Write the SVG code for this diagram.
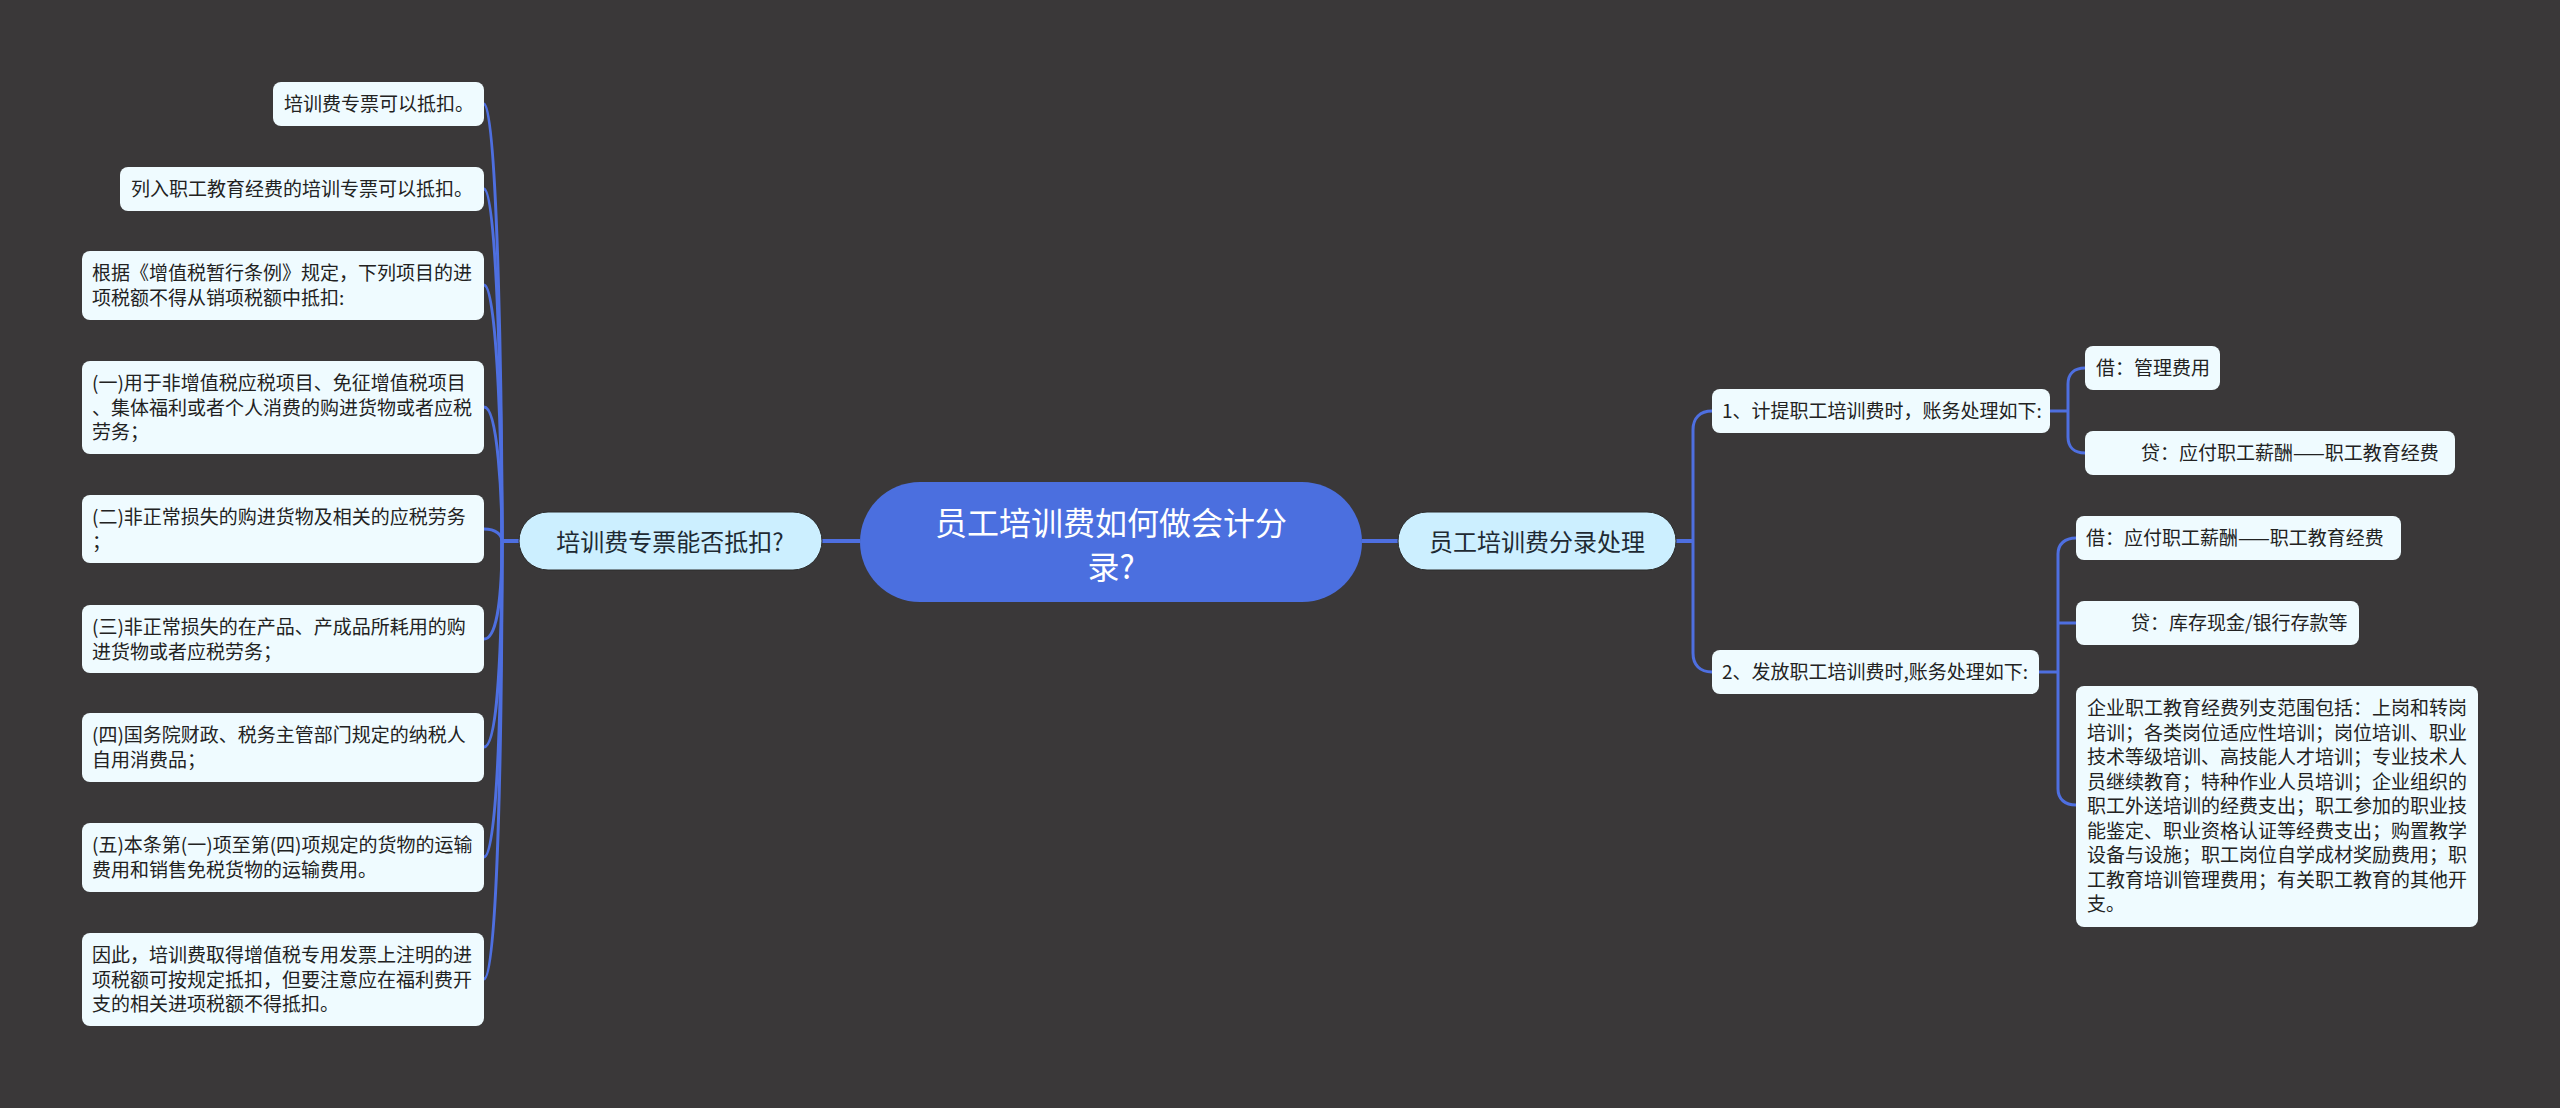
<svg xmlns="http://www.w3.org/2000/svg" width="2560" height="1108" viewBox="0 0 2560 1108">
<style>
text{font-family:"Noto Sans CJK SC","Noto Sans",sans-serif;fill:#222222}
.leaf{fill:#effbff}
.t{font-size:19px}
.mid{fill:#ccefff;stroke:#2a2a2a;stroke-width:1}
.mt{font-size:24px;text-anchor:middle;fill:#1e2a33}
.ct{font-size:32px;text-anchor:middle;fill:#ffffff}
.ln{fill:none;stroke:#4e6fe0;stroke-width:3}
.lm{fill:none;stroke:#4e6fe0;stroke-width:4}
</style>
<rect width="2560" height="1108" fill="#3a3839"/>
<g id="connectors">
<path class="lm" d="M822,541 H860"/>
<path class="lm" d="M1362,541 H1398"/>
<path class="lm" d="M519,541 H502"/>
<path class="ln" d="M502,541 C502,420 498,104 484,104"/>
<path class="ln" d="M502,541 C502,440 498,189 484,189"/>
<path class="ln" d="M502,541 C502,470 498,285 484,285"/>
<path class="ln" d="M502,541 C502,500 498,407 484,407"/>
<path class="ln" d="M502,541 C502,535 496,529 484,529"/>
<path class="ln" d="M502,541 C502,590 498,639 484,639"/>
<path class="ln" d="M502,541 C502,640 498,747 484,747"/>
<path class="ln" d="M502,541 C502,680 498,857 484,857"/>
<path class="ln" d="M502,541 C502,720 498,979 484,979"/>
<path class="lm" d="M1676,541 H1693"/>
<path class="ln" d="M1712,411 C1700,411 1693,418 1693,430 V653 C1693,665 1700,672 1712,672"/>
<path class="ln" d="M2050,411 H2068"/>
<path class="ln" d="M2085,368 C2074,368 2068,374 2068,384 V437 C2068,447 2074,453 2085,453"/>
<path class="ln" d="M2039,672 H2058"/>
<path class="ln" d="M2076,538 C2065,538 2058,544 2058,554 V789 C2058,799 2065,805 2076,805"/>
<path class="ln" d="M2058,623 H2076"/>
</g>
<g id="center">
<rect x="860" y="482" width="502" height="120" rx="60" fill="#4b6fdf"/>
<text class="ct" x="1111" y="535">员工培训费如何做会计分</text>
<text class="ct" x="1111" y="579">录?</text>
</g>
<g id="mid-left">
<rect class="mid" x="519" y="512" width="303" height="58" rx="29"/>
<text class="mt" x="670" y="551">培训费专票能否抵扣?</text>
</g>
<g id="mid-right">
<rect class="mid" x="1398" y="512" width="278" height="58" rx="29"/>
<text class="mt" x="1537" y="551">员工培训费分录处理</text>
</g>
<g id="l1"><rect class="leaf" x="273" y="82" width="211" height="44" rx="8"/>
<text class="t" x="284" y="111">培训费专票可以抵扣。</text></g>
<g id="l2"><rect class="leaf" x="120" y="167" width="364" height="44" rx="8"/>
<text class="t" x="131" y="196">列入职工教育经费的培训专票可以抵扣。</text></g>
<g id="l3"><rect class="leaf" x="82" y="251" width="402" height="69" rx="8"/>
<text class="t" x="92" y="280">根据《增值税暂行条例》规定，下列项目的进</text>
<text class="t" x="92" y="304.5">项税额不得从销项税额中抵扣:</text></g>
<g id="l4"><rect class="leaf" x="82" y="361" width="402" height="93" rx="8"/>
<text class="t" x="92" y="390">(一)用于非增值税应税项目、免征增值税项目</text>
<text class="t" x="92" y="414.5">、集体福利或者个人消费的购进货物或者应税</text>
<text class="t" x="92" y="439">劳务；</text></g>
<g id="l5"><rect class="leaf" x="82" y="495" width="402" height="68" rx="8"/>
<text class="t" x="92" y="524">(二)非正常损失的购进货物及相关的应税劳务</text>
<text class="t" x="92" y="548.5">；</text></g>
<g id="l6"><rect class="leaf" x="82" y="605" width="402" height="68" rx="8"/>
<text class="t" x="92" y="634">(三)非正常损失的在产品、产成品所耗用的购</text>
<text class="t" x="92" y="658.5">进货物或者应税劳务；</text></g>
<g id="l7"><rect class="leaf" x="82" y="713" width="402" height="69" rx="8"/>
<text class="t" x="92" y="742">(四)国务院财政、税务主管部门规定的纳税人</text>
<text class="t" x="92" y="766.5">自用消费品；</text></g>
<g id="l8"><rect class="leaf" x="82" y="823" width="402" height="69" rx="8"/>
<text class="t" x="92" y="852">(五)本条第(一)项至第(四)项规定的货物的运输</text>
<text class="t" x="92" y="876.5">费用和销售免税货物的运输费用。</text></g>
<g id="l9"><rect class="leaf" x="82" y="933" width="402" height="93" rx="8"/>
<text class="t" x="92" y="962">因此，培训费取得增值税专用发票上注明的进</text>
<text class="t" x="92" y="986.5">项税额可按规定抵扣，但要注意应在福利费开</text>
<text class="t" x="92" y="1011">支的相关进项税额不得抵扣。</text></g>
<g id="r1"><rect class="leaf" x="1712" y="389" width="338" height="44" rx="8"/>
<text class="t" x="1722" y="418">1、计提职工培训费时，账务处理如下:</text></g>
<g id="r2"><rect class="leaf" x="1712" y="650" width="327" height="44" rx="8"/>
<text class="t" x="1722" y="679">2、发放职工培训费时,账务处理如下:</text></g>
<g id="r1a"><rect class="leaf" x="2085" y="346" width="135" height="44" rx="8"/>
<text class="t" x="2096" y="375">借：管理费用</text></g>
<g id="r1b"><rect class="leaf" x="2085" y="431" width="370" height="44" rx="8"/>
<text class="t" x="2141" y="460">贷：应付职工薪酬——职工教育经费</text></g>
<g id="r2a"><rect class="leaf" x="2076" y="516" width="325" height="44" rx="8"/>
<text class="t" x="2086" y="545">借：应付职工薪酬——职工教育经费</text></g>
<g id="r2b"><rect class="leaf" x="2076" y="601" width="283" height="44" rx="8"/>
<text class="t" x="2131" y="630">贷：库存现金/银行存款等</text></g>
<g id="r2c"><rect class="leaf" x="2076" y="686" width="402" height="241" rx="8"/>
<text class="t" x="2087" y="715">企业职工教育经费列支范围包括：上岗和转岗</text>
<text class="t" x="2087" y="739.5">培训；各类岗位适应性培训；岗位培训、职业</text>
<text class="t" x="2087" y="764">技术等级培训、高技能人才培训；专业技术人</text>
<text class="t" x="2087" y="788.5">员继续教育；特种作业人员培训；企业组织的</text>
<text class="t" x="2087" y="813">职工外送培训的经费支出；职工参加的职业技</text>
<text class="t" x="2087" y="837.5">能鉴定、职业资格认证等经费支出；购置教学</text>
<text class="t" x="2087" y="862">设备与设施；职工岗位自学成材奖励费用；职</text>
<text class="t" x="2087" y="886.5">工教育培训管理费用；有关职工教育的其他开</text>
<text class="t" x="2087" y="911">支。</text></g>
</svg>
